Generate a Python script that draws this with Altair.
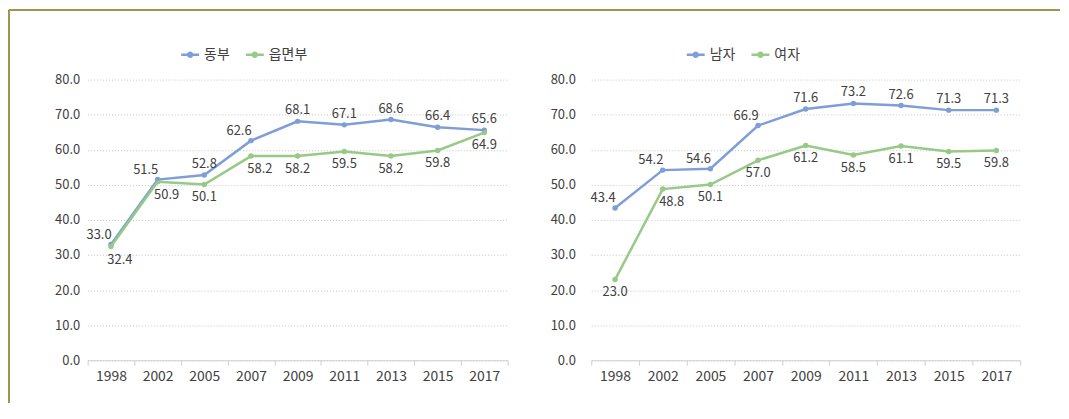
import altair as alt
import pandas as pd

years = ["1998", "2002", "2005", "2007", "2009", "2011", "2013", "2015", "2017"]

left_series = ["동부", "읍면부"]
dongbu = [33.0, 51.5, 52.8, 62.6, 68.1, 67.1, 68.6, 66.4, 65.6]
eupmyeonbu = [32.4, 50.9, 50.1, 58.2, 58.2, 59.5, 58.2, 59.8, 64.9]

right_series = ["남자", "여자"]
male = [43.4, 54.2, 54.6, 66.9, 71.6, 73.2, 72.6, 71.3, 71.3]
female = [23.0, 48.8, 50.1, 57.0, 61.2, 58.5, 61.1, 59.5, 59.8]

y_ticks = [0, 10, 20, 30, 40, 50, 60, 70, 80]

BLUE = "#7f9ed8"
GREEN = "#97c987"
TEXT = "#404040"
FONT = "Noto Sans CJK KR"
FRAME = "#9c9650"

LEFT_W, RIGHT_W, H = 422, 431, 282
GAP = 84

# legend symbol: short line with a dot in the middle
LEGEND_SYMBOL = (
    "M-1,-0.14 L1,-0.14 L1,0.14 L-1,0.14 Z "
    "M0.36,0 A0.36,0.36 0 1 1 -0.36,0 A0.36,0.36 0 1 1 0.36,0 Z"
)


def make_df(names, a, b):
    rows = []
    for name, vals in zip(names, [a, b]):
        for yr, v in zip(years, vals):
            rows.append({"year": yr, "series": name, "value": v})
    return pd.DataFrame(rows)


def panel(names, a, b, width, height, y_extent, y_labpad, legend_x,
          blue_shift, green_shift, is_left):
    df = make_df(names, a, b)
    base = alt.Chart(df)
    x = alt.X(
        "year:O",
        title=None,
        scale=alt.Scale(type="band", paddingInner=0, paddingOuter=0),
        axis=alt.Axis(
            labelAngle=0, labelFont=FONT, labelFontSize=14, labelColor=TEXT,
            domainColor="#d0d0d0", tickColor="#d0d0d0", tickSize=5,
            tickBand="extent", labelPadding=4, grid=False,
        ),
    )
    y = alt.Y(
        "value:Q",
        title=None,
        scale=alt.Scale(domain=[0, 80], nice=False, zero=True),
        axis=alt.Axis(
            values=y_ticks, format=".1f", labelFont=FONT, labelFontSize=13,
            labelColor=TEXT, domain=False, ticks=False, grid=True,
            gridColor="#c4c4c4", gridDash=[1, 2], gridWidth=1,
            labelPadding=y_labpad, minExtent=y_extent, maxExtent=y_extent,
        ),
    )
    cscale = alt.Scale(domain=names, range=[BLUE, GREEN])

    pts = base.mark_point(filled=True, size=30, opacity=1).encode(
        x=x, y=y,
        color=alt.Color(
            "series:N", scale=cscale, sort=names,
            legend=alt.Legend(
                title=None, orient="none", legendX=legend_x, legendY=-34,
                direction="horizontal", symbolType=LEGEND_SYMBOL,
                symbolSize=324, symbolStrokeWidth=0, labelFont=FONT,
                labelFontSize=14, labelColor=TEXT, labelOffset=5,
                columnPadding=16, padding=0, symbolOpacity=1,
            ),
        ),
    )
    line = base.mark_line(strokeWidth=2.5).encode(
        x=x, y=y, color=alt.Color("series:N", scale=cscale, legend=None)
    )

    def labels(series, shift, dx_shift, dy_norm, dy_shift):
        layers = []
        t_norm = base.transform_filter(
            alt.datum.series == series
        ).transform_filter(
            alt.FieldOneOfPredicate(field="year", oneOf=[yy for yy in years if yy not in shift])
        ).mark_text(font=FONT, fontSize=13, color=TEXT, dy=dy_norm, baseline="middle").encode(
            x=x, y=y, text=alt.Text("value:Q", format=".1f")
        )
        layers.append(t_norm)
        if shift:
            t_sh = base.transform_filter(
                alt.datum.series == series
            ).transform_filter(
                alt.FieldOneOfPredicate(field="year", oneOf=shift)
            ).mark_text(font=FONT, fontSize=13, color=TEXT, dx=dx_shift, dy=dy_shift,
                        baseline="middle").encode(
                x=x, y=y, text=alt.Text("value:Q", format=".1f")
            )
            layers.append(t_sh)
        return layers

    txt = labels(names[0], blue_shift, -12, -11, -10) + labels(names[1], green_shift, 9, 13, 13)

    layers = [pts, line] + txt
    if is_left:
        frame_top = base.mark_rule(color=FRAME, strokeWidth=2).encode(
            x=alt.value(-(y_extent - 1)),
            x2=alt.value(LEFT_W + GAP + RIGHT_W + 40),
            y=alt.value(-70),
        )
        frame_left = base.mark_rule(color=FRAME, strokeWidth=1.5).encode(
            x=alt.value(-(y_extent - 1)), y=alt.value(-70), y2=alt.value(325)
        )
        layers = [frame_left, frame_top] + layers
    return alt.layer(*layers).properties(width=width, height=height).resolve_scale(color="shared")


left = panel(left_series, dongbu, eupmyeonbu, LEFT_W, H, 80, 8, 94,
             ["1998", "2002", "2007"], ["1998", "2002", "2007"], True)
right = panel(right_series, male, female, RIGHT_W, H, GAP, 16, 96,
              ["1998", "2002", "2005", "2007"], ["2002"], False)

chart = alt.hconcat(left, right, spacing=GAP, bounds="flush").resolve_scale(
    color="independent", x="independent", y="independent"
).resolve_legend(color="independent").configure_view(stroke=None).properties(padding=0)

chart.save("out.html", embed_options={"renderer": "svg", "actions": False})
